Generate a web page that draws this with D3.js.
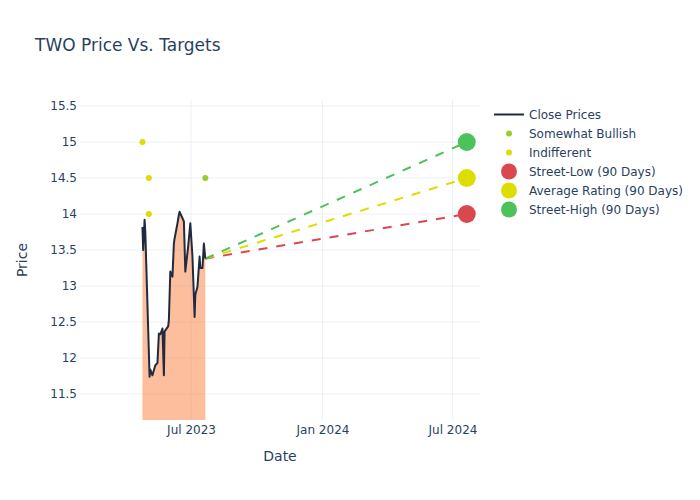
<!DOCTYPE html>
<html>
<head>
<meta charset="utf-8">
<script src="https://cdn.jsdelivr.net/npm/d3@7"></script>
<style>
  html, body { margin: 0; padding: 0; background: #fff; }
  svg { display: block; font-family: "DejaVu Sans", Verdana, sans-serif; }
</style>
</head>
<body>
<svg id="chart" width="700" height="500"></svg>
<script>
// ---- data ----
const priceDates = ["2023-04-24","2023-04-25","2023-04-27","2023-04-28","2023-05-04","2023-05-05",
  "2023-05-08","2023-05-10","2023-05-12","2023-05-15","2023-05-17","2023-05-19","2023-05-22",
  "2023-05-24","2023-05-25","2023-05-30","2023-05-31","2023-06-02","2023-06-05","2023-06-07",
  "2023-06-08","2023-06-12","2023-06-14","2023-06-15","2023-06-20","2023-06-21","2023-06-23",
  "2023-06-27","2023-06-30","2023-07-03","2023-07-06","2023-07-07","2023-07-10","2023-07-13",
  "2023-07-14","2023-07-17","2023-07-19","2023-07-21"];
const closePrices = [13.82,13.50,13.92,13.75,11.74,11.84,
  11.76,11.83,11.90,11.93,12.34,12.33,12.41,
  11.76,12.37,12.44,12.53,13.20,13.13,13.59,
  13.66,13.87,13.99,14.03,13.92,13.90,13.20,
  13.55,13.87,13.41,12.57,12.88,12.99,13.41,
  13.25,13.25,13.59,13.38];

const somewhatBullishDates = ["2023-07-21"];
const somewhatBullishValues = [14.5];
const indifferentDates = ["2023-04-24","2023-05-03","2023-05-03"];
const indifferentValues = [15, 14.5, 14];

const targetDate = "2024-07-21";
const targetNames = ["Street-Low (90 Days)","Average Rating (90 Days)","Street-High (90 Days)"];
const targetValues = [14, 14.5, 15];
const targetColors = ["#d9484f","#dddd00","#4cc35a"];

const yTicks = [11.5,12,12.5,13,13.5,14,14.5,15,15.5];
const xTicks = ["2023-07-01","2024-01-01","2024-07-01"];
const xTickLabels = ["Jul 2023","Jan 2024","Jul 2024"];

// ---- layout ----
const parse = d3.timeParse("%Y-%m-%d");
const svg = d3.select("#chart");
const L = 80, R = 480, T = 100, B = 420;
const textColor = "#2a3f5f";
const gridColor = "#ebf0f8";

const x = d3.scaleTime()
  .domain([new Date(2023,0,26,14), new Date(2024,7,8,12)])
  .range([L, R]);
const y = d3.scaleLinear().domain([11.5 - 26/72, 15.5 + 6/72]).range([B, T]);

// grid
svg.append("g").selectAll("line.h").data(yTicks).join("line")
  .attr("x1", L).attr("x2", R)
  .attr("y1", d => y(d)).attr("y2", d => y(d))
  .attr("stroke", gridColor).attr("stroke-width", 1);
svg.append("g").selectAll("line.v").data(xTicks).join("line")
  .attr("y1", T).attr("y2", B)
  .attr("x1", d => x(parse(d))).attr("x2", d => x(parse(d)))
  .attr("stroke", gridColor).attr("stroke-width", 1);

// axes (labels only)
const yAxis = d3.axisLeft(y).tickValues(yTicks).tickSize(0).tickPadding(3).tickFormat(d3.format("~g"));
const gy = svg.append("g").attr("transform", `translate(${L},0)`).call(yAxis);
gy.select(".domain").remove();
gy.selectAll("text").attr("fill", textColor).style("font-size", "12px")
  .style("font-family", "DejaVu Sans, sans-serif");

const xAxis = d3.axisBottom(x).tickValues(xTicks.map(parse)).tickSize(0).tickPadding(5)
  .tickFormat((d, i) => xTickLabels[i]);
const gx = svg.append("g").attr("transform", `translate(0,${B})`).call(xAxis);
gx.select(".domain").remove();
gx.selectAll("text").attr("fill", textColor).style("font-size", "12px")
  .style("font-family", "DejaVu Sans, sans-serif");

// clip
svg.append("defs").append("clipPath").attr("id", "clip")
  .append("rect").attr("x", L).attr("y", T).attr("width", R - L).attr("height", B - T);
const plot = svg.append("g").attr("clip-path", "url(#clip)");

const priceData = priceDates.map((d, i) => ({ date: parse(d), v: closePrices[i] }));

// area fill
plot.append("path").datum(priceData)
  .attr("d", d3.area().x(d => x(d.date)).y0(B).y1(d => y(d.v)))
  .attr("fill", "rgba(249,125,60,0.5)");

// target dashed lines
const last = priceData[priceData.length - 1];
targetValues.forEach((tv, i) => {
  plot.append("line")
    .attr("x1", x(last.date)).attr("y1", y(last.v))
    .attr("x2", x(parse(targetDate))).attr("y2", y(tv))
    .attr("stroke", targetColors[i]).attr("stroke-width", 2)
    .attr("stroke-dasharray", "9,9");
});

// close price line
plot.append("path").datum(priceData)
  .attr("d", d3.line().x(d => x(d.date)).y(d => y(d.v)))
  .attr("fill", "none").attr("stroke", "#222a40").attr("stroke-width", 2)
  .attr("stroke-linejoin", "round");

// rating dots
plot.selectAll("circle.sb").data(somewhatBullishDates).join("circle")
  .attr("cx", d => x(parse(d))).attr("cy", (d, i) => y(somewhatBullishValues[i]))
  .attr("r", 3).attr("fill", "#9acd32");
plot.selectAll("circle.ind").data(indifferentDates).join("circle")
  .attr("cx", d => x(parse(d))).attr("cy", (d, i) => y(indifferentValues[i]))
  .attr("r", 3).attr("fill", "#dddd00");

// target markers
svg.append("g").selectAll("circle").data(targetValues).join("circle")
  .attr("cx", x(parse(targetDate))).attr("cy", d => y(d))
  .attr("r", 9).attr("fill", (d, i) => targetColors[i]);

// titles
svg.append("text").attr("x", 35).attr("y", 51).text("TWO Price Vs. Targets")
  .attr("fill", textColor).style("font-size", "17px");
svg.append("text").attr("x", (L + R) / 2).attr("y", 461).attr("text-anchor", "middle")
  .text("Date").attr("fill", textColor).style("font-size", "14px");
svg.append("text").attr("transform", `translate(27,${(T + B) / 2}) rotate(-90)`)
  .attr("text-anchor", "middle").text("Price").attr("fill", textColor).style("font-size", "14px");

// legend
const legendItems = [
  { name: "Close Prices", type: "line", color: "#222a40" },
  { name: "Somewhat Bullish", type: "dot", r: 3, color: "#9acd32" },
  { name: "Indifferent", type: "dot", r: 3, color: "#dddd00" },
  { name: targetNames[0], type: "dot", r: 8, color: targetColors[0] },
  { name: targetNames[1], type: "dot", r: 8, color: targetColors[1] },
  { name: targetNames[2], type: "dot", r: 8, color: targetColors[2] }
];
const lg = svg.append("g");
legendItems.forEach((it, i) => {
  const cy = 114.5 + i * 19;
  if (it.type === "line") {
    lg.append("line").attr("x1", 494).attr("x2", 524).attr("y1", cy).attr("y2", cy)
      .attr("stroke", it.color).attr("stroke-width", 2);
  } else {
    lg.append("circle").attr("cx", 509).attr("cy", cy).attr("r", it.r).attr("fill", it.color);
  }
  lg.append("text").attr("x", 529).attr("y", cy + 4.5).text(it.name)
    .attr("fill", textColor).style("font-size", "12px");
});
</script>
</body>
</html>
